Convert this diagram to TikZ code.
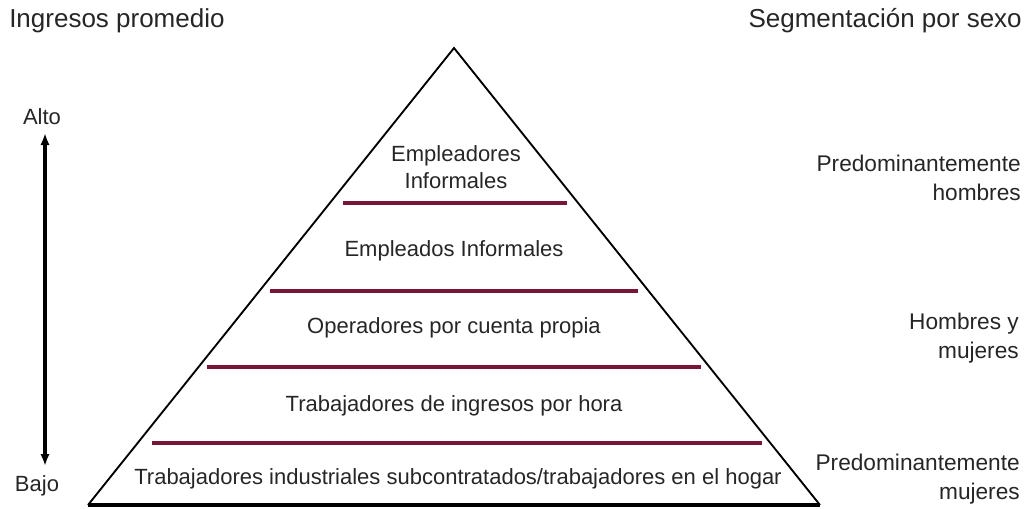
\documentclass[tikz,border=0pt]{standalone}
\usepackage{fontspec}
\setmainfont{Liberation Sans}
\usetikzlibrary{arrows.meta}
\definecolor{tiermaroon}{RGB}{120,22,55}
\begin{document}
\begin{tikzpicture}[x=0.75pt,y=-0.75pt,
  lbl/.style={font=\fontsize{16.5}{20}\selectfont, text=black!85, inner sep=0pt},
  hdr/.style={font=\fontsize{19.5}{24}\selectfont, text=black!85, inner sep=0pt},
  side/.style={font=\fontsize{17}{21.75}\selectfont, text=black!85, inner sep=0pt, align=right, anchor=east},
  tier/.style={draw=tiermaroon, line width=3pt},
  pedge/.style={draw=black, line width=1.4pt},
  pbase/.style={draw=black, line width=2.6pt},
  incomeaxis/.style={draw=black, line width=3pt, {Latex[length=9pt,width=7pt]}-{Latex[length=9pt,width=7pt]}}]
\useasboundingbox (0,0) rectangle (1025,508);
% headers
\node[hdr, anchor=west] (hl) at (9,21) {Ingresos promedio};
\node[hdr, anchor=east] (hr) at (1022,21) {Segmentación por sexo};
% income scale
\node[lbl] (alto) at (42,117) {Alto};
\node[lbl] (bajo) at (37,486) {Bajo};
\coordinate (atop) at (45,133);
\coordinate (abot) at (45,466);
\draw[incomeaxis] (abot) -- (atop);
% pyramid
\coordinate (apex) at (454,48);
\coordinate (bl) at (88,505);
\coordinate (br) at (820,505);
\draw[pedge] (bl) -- (apex) -- (br);
\draw[pbase] (bl) -- (br);
% tier lines
\coordinate (t1l) at (343,203); \coordinate (t1r) at (567,203);
\coordinate (t2l) at (270,291); \coordinate (t2r) at (638,291);
\coordinate (t3l) at (207,367); \coordinate (t3r) at (701,367);
\coordinate (t4l) at (152,443); \coordinate (t4r) at (762,443);
\draw[tier] (t1l) -- (t1r);
\draw[tier] (t2l) -- (t2r);
\draw[tier] (t3l) -- (t3r);
\draw[tier] (t4l) -- (t4r);
% tier labels
\node[lbl, align=center] (n1) at (456,167) {Empleadores\\Informales};
\node[lbl] (n2) at (454,251) {Empleados Informales};
\node[lbl] (n3) at (454,328) {Operadores por cuenta propia};
\node[lbl] (n4) at (454,406) {Trabajadores de ingresos por hora};
\node[lbl] (n5) at (458,479) {Trabajadores industriales subcontratados/trabajadores en el hogar};
% sex segmentation
\node[side] (s1) at (1021,178) {Predominantemente\\hombres};
\node[side] (s2) at (1019,338) {Hombres y\\mujeres};
\node[side] (s3) at (1020,479) {Predominantemente\\mujeres};
\end{tikzpicture}
\end{document}
